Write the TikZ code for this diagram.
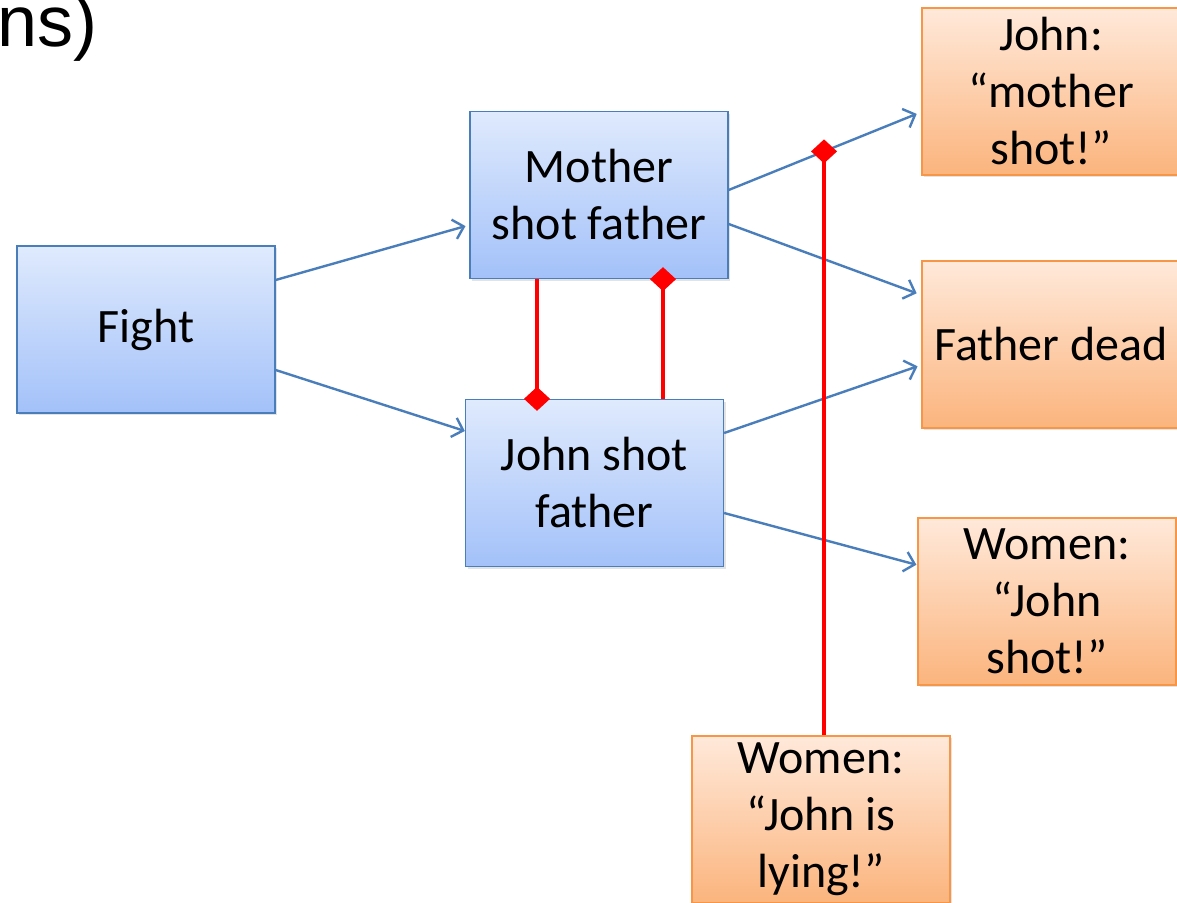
\documentclass[tikz,border=0pt]{standalone}
\usepackage{fontspec}
\setmainfont{Carlito}
\newfontfamily\headfont{Liberation Sans}
\usetikzlibrary{arrows.meta,shadows,calc}

\definecolor{edgeblue}{HTML}{4A7EBB}
\definecolor{blueTop}{HTML}{DFEAFD}
\definecolor{blueBot}{HTML}{A3C1F9}
\definecolor{boxorange}{HTML}{F79646}
\definecolor{orangeTop}{HTML}{FFE9DA}
\definecolor{orangeBot}{HTML}{FBB47D}
\definecolor{conflict}{HTML}{FF0000}

\begin{document}
\begin{tikzpicture}[x=1pt,y=-1pt,
  box/.style={line width=1.3pt, minimum width=258pt, minimum height=167pt,
    inner sep=0pt, align=center, font=\fontsize{48}{57}\selectfont,
    execute at begin node={\vspace*{8pt}},
    drop shadow={shadow xshift=2pt,shadow yshift=-2pt,opacity=0.22}},
  bluebox/.style={box, draw=edgeblue, top color=blueTop, bottom color=blueBot},
  orangebox/.style={box, draw=boxorange, top color=orangeTop, bottom color=orangeBot},
  flow/.style={draw=edgeblue, line width=2.4pt,
    -{Straight Barb[length=10pt,width=20pt,line width=2.4pt]}},
  clash/.style={draw=conflict, line width=4.5pt,
    -{Diamond[length=24pt,width=26pt]}, shorten >=-12pt}
]
\useasboundingbox (0,0) rectangle (1177,902);

% heading fragment
\node[anchor=base west, inner sep=0pt, font=\headfont\fontsize{72}{80}\selectfont] (head) at (-3,46) {ns)};

% scenario boxes
\node[bluebox] (fight) at (146,329.5) {Fight};
\node[bluebox] (msf) at (599,195) {Mother\\shot father};
\node[bluebox] (jsf) at (594.5,483) {John shot\\father};

% observation boxes
\node[orangebox] (jmb) at (1051,91.5) {John:\\“mother\\shot!”};
\node[orangebox] (fd) at (1051,344.5) {Father dead};
\node[orangebox] (wjs) at (1047,601.5) {Women:\\“John\\shot!”};
\node[orangebox] (wly) at (821,819.5) {Women:\\“John is\\lying!”};

% causal links
\draw[flow, shorten >=4pt] (fight.east |- 0,280) -- (msf.west |- 0,225);
\draw[flow] (fight.east |- 0,370) -- (jsf.west |- 0,431);
\draw[flow, shorten >=5pt] (msf.east |- 0,190)
  -- coordinate[pos=0.495] (hit) (jmb.west |- 0,112);
\draw[flow, shorten >=5pt] (msf.east |- 0,224) -- (fd.west |- 0,295);
\draw[flow, shorten >=4pt] (jsf.east |- 0,433) -- (fd.west |- 0,365);
\draw[flow, shorten >=1pt] (jsf.east |- 0,513) -- (wjs.west |- 0,565);

% conflict links
\draw[clash] (msf.south -| 537,0) -- (jsf.north -| 537,0);
\draw[clash] (jsf.north -| 663,0) -- (msf.south -| 663,0);
\draw[clash] (wly.north -| hit) -- (hit);
\end{tikzpicture}
\end{document}
